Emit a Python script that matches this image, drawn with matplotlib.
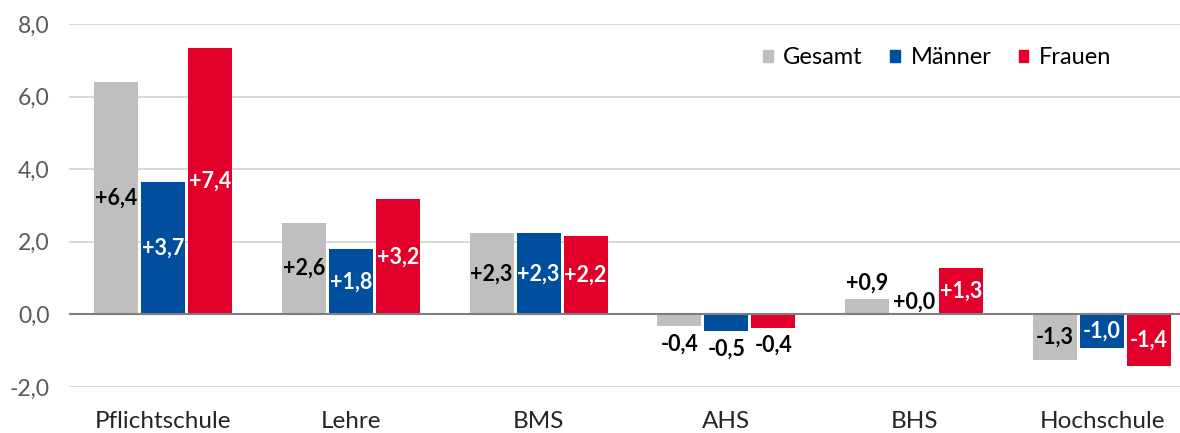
import matplotlib
matplotlib.use("Agg")
import matplotlib.pyplot as plt
from matplotlib.patches import Patch
import numpy as np

plt.rcParams['font.family'] = ['Lato', 'DejaVu Sans']

categories = ["Pflichtschule", "Lehre", "BMS", "AHS", "BHS", "Hochschule"]
series = ["Gesamt", "Männer", "Frauen"]

# bar heights as drawn in the source chart
gesamt = [6.41, 2.52, 2.23, -0.33, 0.43, -1.25]
maenner = [3.64, 1.79, 2.23, -0.47, 0.0, -0.93]
frauen = [7.34, 3.17, 2.15, -0.37, 1.27, -1.42]

# printed labels
gesamt_lbl = ["+6,4", "+2,6", "+2,3", "-0,4", "+0,9", "-1,3"]
maenner_lbl = ["+3,7", "+1,8", "+2,3", "-0,5", "+0,0", "-1,0"]
frauen_lbl = ["+7,4", "+3,2", "+2,2", "-0,4", "+1,3", "-1,4"]

yticks = [-2, 0, 2, 4, 6, 8]

colors = ["#BFBFBF", "#004F9F", "#E2002B"]
inside_text = ["black", "white", "white"]

W, H = 1180, 433
fig = plt.figure(figsize=(W / 100, H / 100), dpi=100)
ax = fig.add_axes([69 / W, 1 - 387 / H, (1180 - 69) / W, (387 - 24) / H])

x = np.arange(len(categories))
step = 0.25
width = 0.234
values = [gesamt, maenner, frauen]
labels = [gesamt_lbl, maenner_lbl, frauen_lbl]
fs_lbl = 15.5

for i, (vals, lbls) in enumerate(zip(values, labels)):
    xs = x + (i - 1) * step
    ax.bar(xs, vals, width, color=colors[i], zorder=3)
    for xv, v, t in zip(xs, vals, lbls):
        if abs(v) >= 0.6:
            ax.text(xv, v / 2, t, ha="center", va="center", fontsize=fs_lbl,
                    fontweight="bold", color=inside_text[i], zorder=4)
        elif v < 0:
            ax.annotate(t, (xv, v), xytext=(0, -5), textcoords="offset points",
                        ha="center", va="top", fontsize=fs_lbl,
                        fontweight="bold", color="black", zorder=4)
        else:
            off = 4 if v > 0 else 1
            ax.annotate(t, (xv, v), xytext=(0, off), textcoords="offset points",
                        ha="center", va="bottom", fontsize=fs_lbl,
                        fontweight="bold", color="black", zorder=4)

ax.set_ylim(-2, 8)
ax.set_xlim(-0.5, 5.5 - 16 / 188)
ax.set_yticks(yticks)
ax.set_yticklabels([f"{v:.1f}".replace(".", ",") for v in yticks],
                   fontsize=16.5, color="#595959")
ax.set_xticks(x)
ax.set_xticklabels(categories, fontsize=17.5, color="#262626")
ax.tick_params(length=0)
ax.tick_params(axis="x", pad=17)
ax.tick_params(axis="y", pad=14)
ax.grid(axis="y", color="#D9D9D9", linewidth=1.5, zorder=0)
ax.axhline(0, color="#7F7F7F", linewidth=1.5, zorder=3.5)
for s in ax.spines.values():
    s.set_visible(False)

handles = [Patch(color=c, label=s) for c, s in zip(colors, series)]
fig.legend(handles=handles, loc="center right", ncol=3, frameon=False,
           bbox_to_anchor=(1128 / W, 1 - 58 / H), fontsize=17,
           handlelength=0.42, handleheight=0.42, handletextpad=0.45,
           columnspacing=1.15, borderpad=0.2)

fig.savefig("out.png", dpi=100)
